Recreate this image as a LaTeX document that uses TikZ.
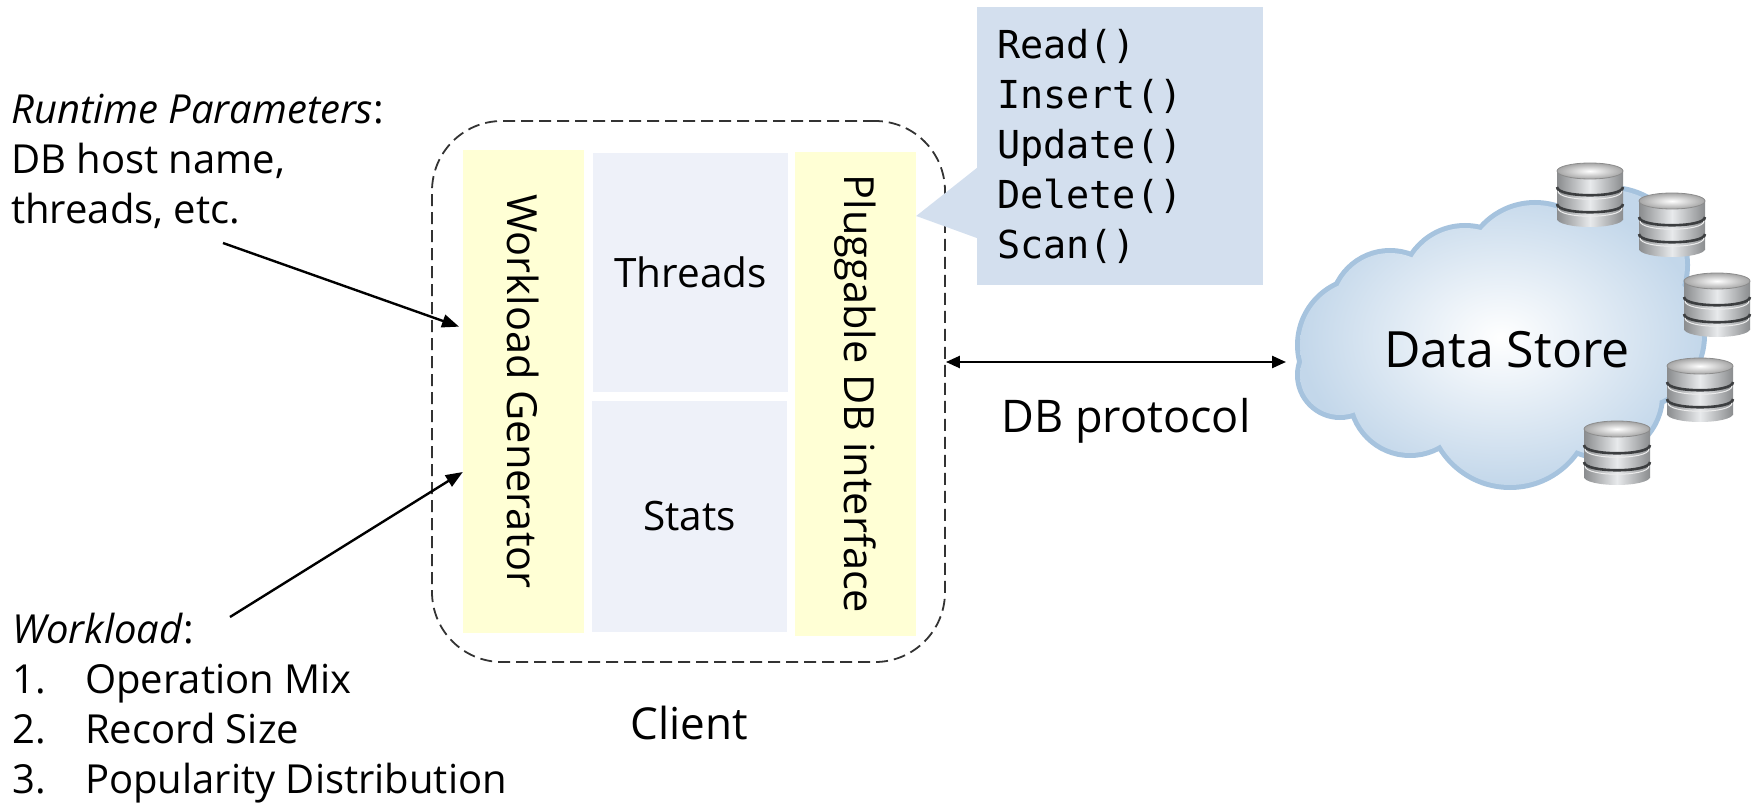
\documentclass[tikz,border=0pt]{standalone}
\usepackage{fontspec}
\setmainfont{Open Sans}
\newfontfamily\codefont{DejaVu Sans Mono}
\usetikzlibrary{arrows.meta,calc}

\definecolor{genyellow}{HTML}{FFFFD5}
\definecolor{corefill}{HTML}{EEF1F9}
\definecolor{callfill}{HTML}{D3DFEE}
\definecolor{cloudline}{HTML}{A6C3DE}
\definecolor{clouddark}{HTML}{C3D7EA}
\definecolor{dbside}{HTML}{8A8C8E}
\definecolor{dblight}{HTML}{E8EAEC}
\definecolor{dbband}{HTML}{3C3E40}

\tikzset{
  genbox/.style={fill=genyellow, draw=none, inner sep=0pt,
    font=\fontsize{41.5}{48}\selectfont},
  corebox/.style={fill=corefill, draw=none, inner sep=0pt,
    font=\fontsize{40.5}{48}\selectfont},
  clientbox/.style={draw=black!80, line width=1.8pt, dash pattern=on 12pt off 6pt,
    rounded corners=70pt, inner sep=0pt},
  callbox/.style={fill=callfill, draw=none, inner xsep=20pt, inner ysep=0pt,
    align=left, font=\codefont\fontsize{38.5}{50}\selectfont},
  sidetext/.style={align=left, inner sep=0pt, font=\fontsize{40}{50}\selectfont},
  label/.style={inner sep=0pt, font=\fontsize{44}{52}\selectfont},
  feed/.style={line width=2.4pt, -{Triangle[length=17pt,width=13pt]}},
  both/.style={line width=2.4pt, {Triangle[length=14pt,width=12pt]}-{Triangle[length=14pt,width=12pt]}},
  dbicon/.pic={
    % silver body with a rounded base
    \shade[left color=dbside, right color=dbside, middle color=dblight]
      (-33,-24) rectangle (33,24);
    \shade[left color=dbside, right color=dbside, middle color=dblight]
      (0,24) ellipse[x radius=33, y radius=8];
    % dark seams between the three platters
    \draw[dbband, line width=2.6pt] (-33,-8) .. controls (-33,3) and (33,3) .. (33,-8);
    \draw[dbband, line width=2.6pt] (-33,9) .. controls (-33,20) and (33,20) .. (33,9);
    \draw[white!85!gray, line width=1pt] (-32,-4) .. controls (-32,7) and (32,7) .. (32,-4);
    \draw[white!85!gray, line width=1pt] (-32,13) .. controls (-32,24) and (32,24) .. (32,13);
    % lid
    \shade[inner color=white, outer color=black!35] (0,-24) ellipse[x radius=33, y radius=8];
    \draw[black!45, line width=0.8pt] (0,-24) ellipse[x radius=33, y radius=8];
  }
}

\begin{document}
\begin{tikzpicture}[x=1pt, y=-1pt]
\useasboundingbox (0,0) rectangle (1758,805);

% client frame and its parts
\node[clientbox, minimum width=513pt, minimum height=541pt] (client) at (688.5,391.5) {};
\node[genbox, rotate=-90, minimum width=483pt, minimum height=121pt] (wg) at (523.5,391.5) {Workload Generator};
\node[corebox, minimum width=195pt, minimum height=238pt] (threads) at (690.5,272.5) {Threads};
\node[corebox, minimum width=195pt, minimum height=231pt] (stats) at (689.5,516.5) {Stats};
\node[genbox, rotate=-90, minimum width=483pt, minimum height=121pt] (pdb) at (855.5,394) {Pluggable DB interface};
\node[label, anchor=base] (clientlbl) at (689,739) {Client};

% operation callout
\node[callbox, minimum width=286pt, minimum height=278pt, text width=246pt] (ops) at (1120,146)
  {Read()\\Insert()\\Update()\\Delete()\\Scan()};
\fill[callfill] (ops.west |- 0,168) -- (pdb.north |- 0,216) -- (ops.west |- 0,238) -- cycle;

% inputs on the left (base anchor sits on the last line)
\node[sidetext, anchor=base west] (rt) at (11,223)
  {\textit{Runtime Parameters}:\\DB host name,\\threads, etc.};
\node[sidetext, anchor=base west] (wl) at (12,793)
  {\textit{Workload}:\\\makebox[73pt][l]{1.}Operation Mix\\\makebox[73pt][l]{2.}Record Size\\\makebox[73pt][l]{3.}Popularity Distribution};
\coordinate (rtsrc) at (223,243);
\coordinate (wlsrc) at (230,617);
\draw[feed, shorten >=4pt] (rtsrc) -- (wg.south |- 0,328);
\draw[feed] (wlsrc) -- (wg.south |- 0,472);

% data store cloud
\path[draw=cloudline, line width=10pt]
  (1365,345) circle[radius=65] (1390,310) circle[radius=57] (1465,290) circle[radius=62]
  (1535,275) circle[radius=70] (1610,265) circle[radius=75] (1630,335) circle[radius=72]
  (1600,395) circle[radius=60] (1510,405) circle[radius=80] (1410,395) circle[radius=58]
  (1340,375) circle[radius=40] (1510,340) circle[radius=100];
\shade[inner color=white, outer color=clouddark]
  (1365,345) circle[radius=65] (1390,310) circle[radius=57] (1465,290) circle[radius=62]
  (1535,275) circle[radius=70] (1610,265) circle[radius=75] (1630,335) circle[radius=72]
  (1600,395) circle[radius=60] (1510,405) circle[radius=80] (1410,395) circle[radius=58]
  (1340,375) circle[radius=40] (1510,340) circle[radius=100];
\coordinate (cloudw) at (1286,362);
\node[label, anchor=base, font=\fontsize{50}{60}\selectfont] (store) at (1507,367) {Data Store};

% storage servers around the cloud
\pic at (1590,195) {dbicon};
\pic at (1672,225) {dbicon};
\pic at (1717,305) {dbicon};
\pic at (1700,390) {dbicon};
\pic at (1617,453) {dbicon};

% protocol link
\draw[both] (client.east |- 0,362) -- (cloudw);
\node[label, anchor=base, font=\fontsize{45}{52}\selectfont] (proto) at (1126,432) {DB protocol};

\end{tikzpicture}
\end{document}
